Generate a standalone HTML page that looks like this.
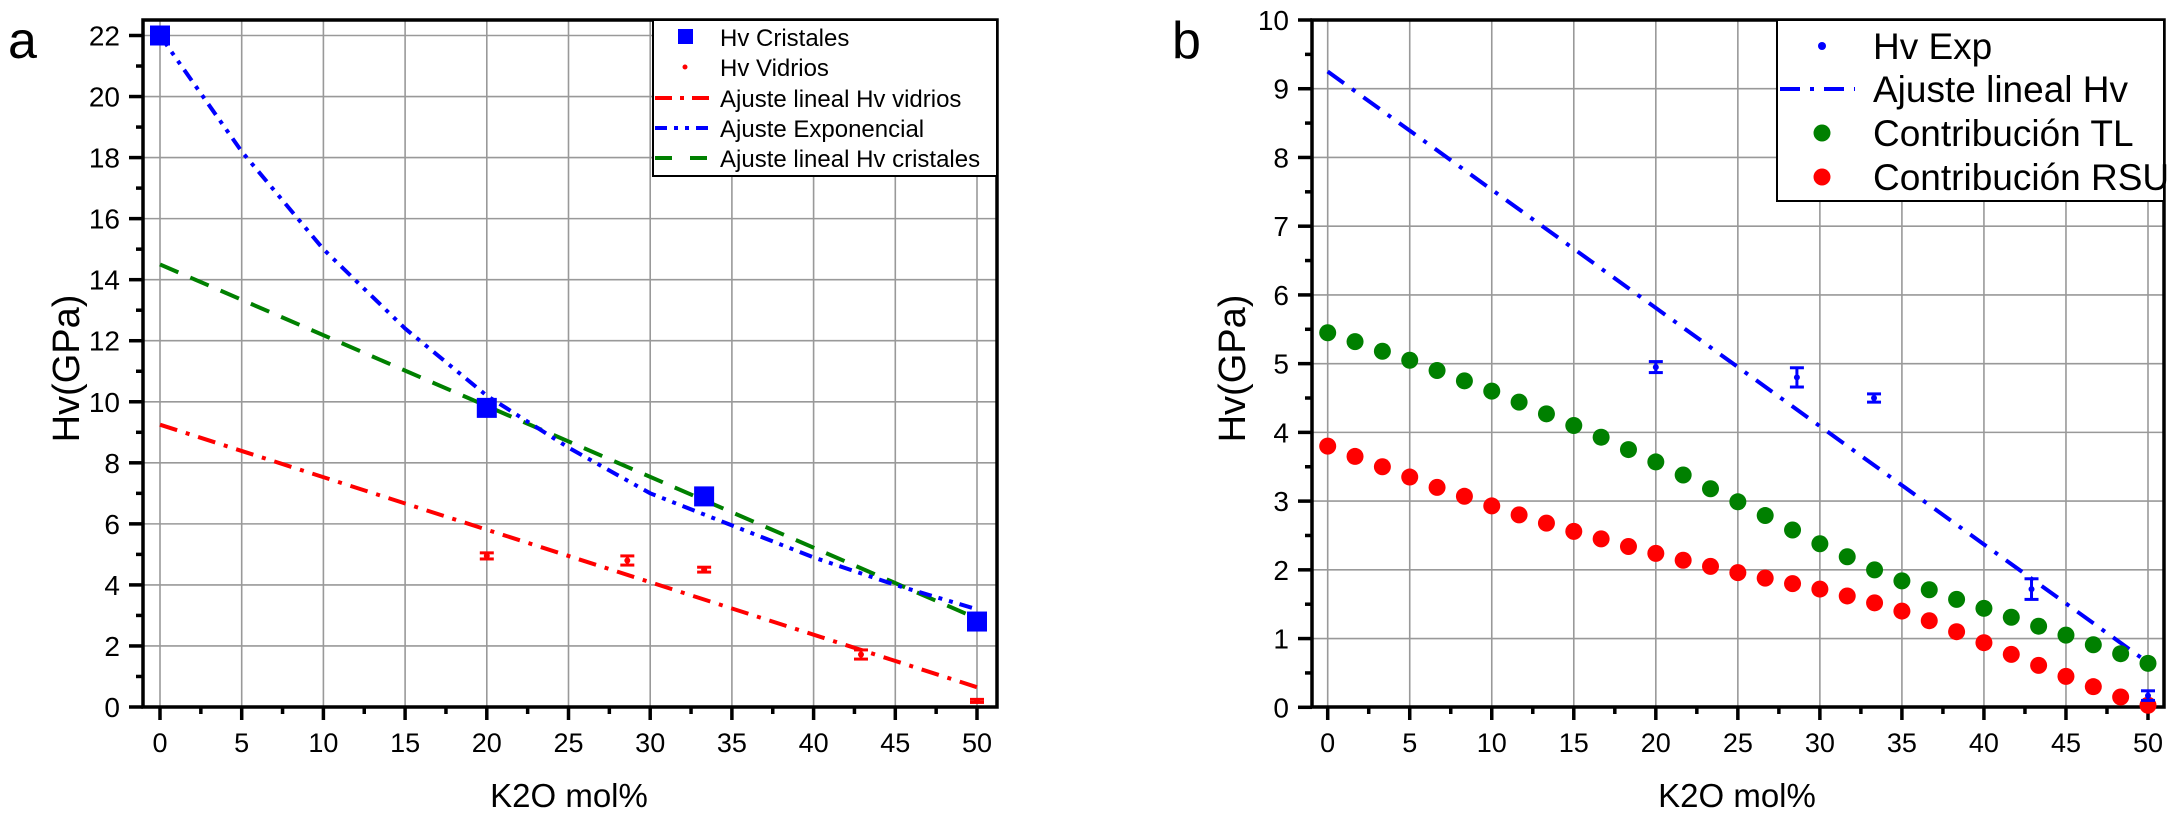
<!DOCTYPE html>
<html><head><meta charset="utf-8"><style>
html,body{margin:0;padding:0;background:#fff;}
svg{display:block;font-family:"Liberation Sans",Arial,sans-serif;}
</style></head><body>
<svg id="fig" width="2175" height="817" viewBox="0 0 2175 817" xmlns="http://www.w3.org/2000/svg"></svg>
<script>
// ---- Panel A data ----
const aXTicks = [0,5,10,15,20,25,30,35,40,45,50];
const aYTicks = [0,2,4,6,8,10,12,14,16,18,20,22];
const aCrystX = [0,20,33.3,50];
const aCrystY = [22,9.8,6.9,2.8];
const aGlassX = [20,28.6,33.3,42.9,50];
const aGlassY = [4.95,4.8,4.5,1.72,0.2];
const aGlassErr = [0.1,0.15,0.08,0.15,0.05];
const aRedFitX = [0,50];
const aRedFitY = [9.25,0.65];
const aExpX = [0,5,10,15,20,25,30,35,40,45,50];
const aExpY = [22,18.2,15,12.4,10.2,8.5,7.0,5.95,4.9,4.0,3.2];
const aGreenFitX = [0,50];
const aGreenFitY = [14.5,2.9];
// ---- Panel B data ----
const bXTicks = [0,5,10,15,20,25,30,35,40,45,50];
const bYTicks = [0,1,2,3,4,5,6,7,8,9,10];
const bExpX = [20,28.6,33.3,42.9,50];
const bExpY = [4.95,4.8,4.5,1.72,0.17];
const bExpErr = [0.08,0.14,0.06,0.15,0.07];
const bFitX = [0,50];
const bFitY = [9.25,0.65];
const bTL = [5.45,5.32,5.18,5.05,4.9,4.75,4.6,4.44,4.27,4.1,3.93,3.75,3.57,3.38,3.18,2.99,2.79,2.58,2.38,2.19,2.0,1.84,1.71,1.57,1.44,1.31,1.18,1.05,0.91,0.78,0.64];
const bRSU = [3.8,3.65,3.5,3.35,3.2,3.07,2.93,2.8,2.68,2.56,2.45,2.34,2.24,2.14,2.05,1.96,1.88,1.8,1.72,1.62,1.52,1.4,1.26,1.1,0.94,0.77,0.61,0.45,0.3,0.15,0.03];

const NS="http://www.w3.org/2000/svg";
const svg=document.getElementById('fig');
function el(tag,attrs,parent){const e=document.createElementNS(NS,tag);for(const k in attrs)e.setAttribute(k,attrs[k]);(parent||svg).appendChild(e);return e;}
function txt(s,attrs,parent){const e=el('text',attrs,parent);e.textContent=s;return e;}

function panel(cfg){
  const g=el('g',{});
  
  
  const X=v=>cfg.x0+(v-cfg.xmin)*(cfg.x1-cfg.x0)/(cfg.xmax-cfg.xmin);
  const Y=v=>cfg.y0+(v-cfg.ymin)*(cfg.y1-cfg.y0)/(cfg.ymax-cfg.ymin);
  cfg.xTicks.forEach(t=>{const l=el('line',{x1:X(t),x2:X(t),y1:cfg.top,y2:cfg.bottom,stroke:'#999','stroke-width':1.6},g);
    });
  cfg.yTicks.forEach(t=>{const l=el('line',{x1:cfg.left,x2:cfg.right,y1:Y(t),y2:Y(t),stroke:'#999','stroke-width':1.6},g);
    });
  const fr=el('rect',{x:cfg.left,y:cfg.top,width:cfg.right-cfg.left,height:cfg.bottom-cfg.top,fill:'none',stroke:'#000','stroke-width':3.5},g);
  
  cfg.xTicks.forEach((t,i)=>{
    el('line',{x1:X(t),x2:X(t),y1:cfg.bottom,y2:cfg.bottom+13,stroke:'#000','stroke-width':3.5},g);
    if(i<cfg.xTicks.length-1){const m=(t+cfg.xTicks[i+1])/2;el('line',{x1:X(m),x2:X(m),y1:cfg.bottom,y2:cfg.bottom+7,stroke:'#000','stroke-width':3.5},g);}
    const tl=txt(String(t),{x:X(t),y:cfg.bottom+45,'font-size':27,'text-anchor':'middle',fill:'#000'},g);
    
  });
  cfg.yTicks.forEach((t,i)=>{
    el('line',{x1:cfg.left-14,x2:cfg.left,y1:Y(t),y2:Y(t),stroke:'#000','stroke-width':3.5},g);
    if(i<cfg.yTicks.length-1){const m=(t+cfg.yTicks[i+1])/2;el('line',{x1:cfg.left-7,x2:cfg.left,y1:Y(m),y2:Y(m),stroke:'#000','stroke-width':3.5},g);}
    const tl=txt(String(t),{x:cfg.left-23,y:Y(t)+10,'font-size':28,'text-anchor':'end',fill:'#000'},g);
    
  });
  const xt=txt('K2O mol%',{x:(cfg.left+cfg.right)/2-1,y:807,'font-size':33,'text-anchor':'middle'},g);
  
  const yc=(cfg.top+cfg.bottom)/2+5;
  const yt=txt('Hv(GPa)',{x:cfg.ytx,y:yc,'font-size':38,'text-anchor':'middle',transform:`rotate(-90 ${cfg.ytx} ${yc})`},g);
  
  const pl=txt(cfg.label,{x:cfg.labelX,y:58,'font-size':52},g);
  
  return {g,X,Y};
}
function pathFrom(xs,ys,X,Y){return xs.map((x,i)=>(i?'L':'M')+X(x).toFixed(1)+','+Y(ys[i]).toFixed(1)).join(' ');}
function errbar(g,x,y,e,X,Y,color,name){
  const gg=el('g',{},g);
  
  const cx=X(x);
  el('line',{x1:cx,x2:cx,y1:Y(y+e),y2:Y(y-e),stroke:color,'stroke-width':3},gg);
  el('line',{x1:cx-7,x2:cx+7,y1:Y(y+e),y2:Y(y+e),stroke:color,'stroke-width':3},gg);
  el('line',{x1:cx-7,x2:cx+7,y1:Y(y-e),y2:Y(y-e),stroke:color,'stroke-width':3},gg);
  el('circle',{cx:cx,cy:Y(y),r:3,fill:color},gg);
}

// ===== Panel A =====
const A=panel({name:'panel-a',left:143,right:997,top:20,bottom:707,x0:160,x1:977,xmin:0,xmax:50,y0:707,y1:35.5,ymin:0,ymax:22,xTicks:aXTicks,yTicks:aYTicks,ytx:79,label:'a',labelX:8});
let p;
p=el('path',{d:pathFrom(aRedFitX,aRedFitY,A.X,A.Y),fill:'none',stroke:'#f00','stroke-width':4,'stroke-dasharray':'18 9 4 9'},A.g);

p=el('path',{d:pathFrom(aGreenFitX,aGreenFitY,A.X,A.Y),fill:'none',stroke:'#008000','stroke-width':4,'stroke-dasharray':'20 13'},A.g);

p=el('path',{d:pathFrom(aExpX,aExpY,A.X,A.Y),fill:'none',stroke:'#00f','stroke-width':4,'stroke-dasharray':'13 7 4 7 4 7'},A.g);

aCrystX.forEach((x,i)=>{const r=el('rect',{x:A.X(x)-10,y:A.Y(aCrystY[i])-10,width:20,height:20,fill:'#00f'},A.g);
  });
aGlassX.forEach((x,i)=>errbar(A.g,x,aGlassY[i],aGlassErr[i],A.X,A.Y,'#f00','glass-point'));
const la=el('g',{});

el('rect',{x:653,y:20,width:344,height:156,fill:'#fff',stroke:'#000','stroke-width':2},la);
const laT=['Hv Cristales','Hv Vidrios','Ajuste lineal Hv vidrios','Ajuste Exponencial','Ajuste lineal Hv cristales'];
const laY=[37,67,98,128,158];
el('rect',{x:678,y:laY[0]-8,width:15,height:15,fill:'#00f'},la);
el('circle',{cx:685,cy:laY[1],r:2.5,fill:'#f00'},la);
el('line',{x1:655,x2:714,y1:laY[2],y2:laY[2],stroke:'#f00','stroke-width':4,'stroke-dasharray':'17 8 4 8'},la);
el('line',{x1:655,x2:714,y1:laY[3],y2:laY[3],stroke:'#00f','stroke-width':4,'stroke-dasharray':'12 7 4 7 4 7'},la);
el('line',{x1:655,x2:714,y1:laY[4],y2:laY[4],stroke:'#008000','stroke-width':4,'stroke-dasharray':'17 18'},la);
laT.forEach((s,i)=>{const t=txt(s,{x:720,y:laY[i]+9,'font-size':24},la);
  });

// ===== Panel B =====
const B=panel({name:'panel-b',left:1312,right:2164,top:20,bottom:707,x0:1327.7,x1:2148,xmin:0,xmax:50,y0:707.3,y1:20,ymin:0,ymax:10,xTicks:bXTicks,yTicks:bYTicks,ytx:1245,label:'b',labelX:1172});
p=el('path',{d:pathFrom(bFitX,bFitY,B.X,B.Y),fill:'none',stroke:'#00f','stroke-width':4,'stroke-dasharray':'20 10 4 10'},B.g);

bTL.forEach((v,i)=>{const c=el('circle',{cx:B.X(i*50/(bTL.length-1)),cy:B.Y(v),r:8.5,fill:'#008000'},B.g);
  });
bRSU.forEach((v,i)=>{const c=el('circle',{cx:B.X(i*50/(bRSU.length-1)),cy:B.Y(v),r:8.5,fill:'#f00'},B.g);
  });
bExpX.forEach((x,i)=>errbar(B.g,x,bExpY[i],bExpErr[i],B.X,B.Y,'#00f','hv-exp-point'));
const lb=el('g',{});

el('rect',{x:1777,y:20,width:387,height:181,fill:'#fff',stroke:'#000','stroke-width':2},lb);
const lbT=['Hv Exp','Ajuste lineal Hv','Contribución TL','Contribución RSU'];
const lbY=[46,89,133,177];
el('circle',{cx:1822,cy:lbY[0],r:4,fill:'#00f'},lb);
el('line',{x1:1780,x2:1855,y1:lbY[1],y2:lbY[1],stroke:'#00f','stroke-width':4,'stroke-dasharray':'20 10 4 10'},lb);
el('circle',{cx:1822,cy:lbY[2],r:8.5,fill:'#008000'},lb);
el('circle',{cx:1822,cy:lbY[3],r:8.5,fill:'#f00'},lb);
lbT.forEach((s,i)=>{const t=txt(s,{x:1873,y:lbY[i]+13,'font-size':37},lb);
  });
</script>
</body></html>
